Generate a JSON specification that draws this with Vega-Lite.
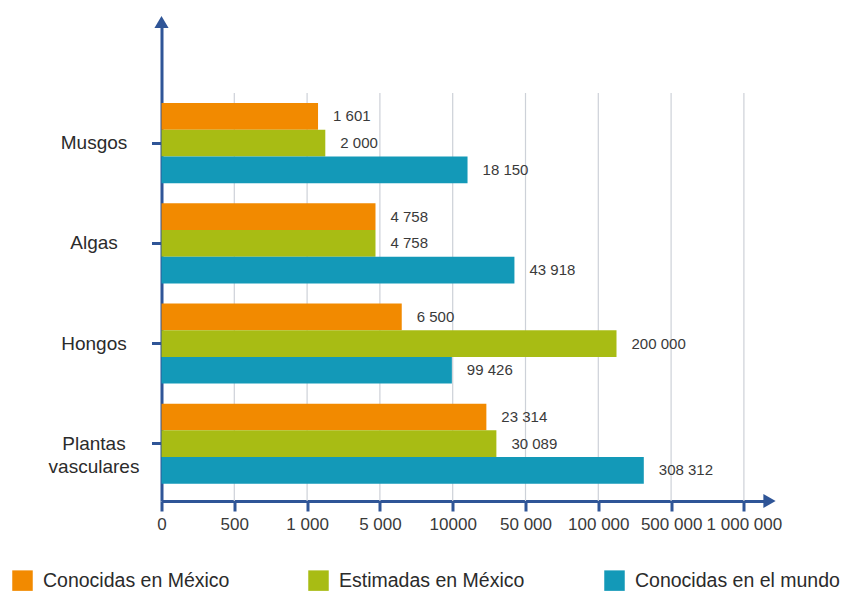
{
  "$schema": "https://vega.github.io/schema/vega-lite/v6.json",
  "width": 608,
  "height": 479,
  "autosize": {"type": "none"},
  "padding": {"left": 161.5, "top": 22, "right": 78.5, "bottom": 99},
  "background": "white",
  "config": {
    "view": {"stroke": null},
    "font": "Liberation Sans, Arial, sans-serif"
  },
  "datasets": {
    "barras": [
      {"grupo": "Musgos", "serie": "Conocidas en México", "valor": 1601, "etiqueta": "1 601"},
      {"grupo": "Musgos", "serie": "Estimadas en México", "valor": 2000, "etiqueta": "2 000"},
      {"grupo": "Musgos", "serie": "Conocidas en el mundo", "valor": 18150, "etiqueta": "18 150"},
      {"grupo": "Algas", "serie": "Conocidas en México", "valor": 4758, "etiqueta": "4 758"},
      {"grupo": "Algas", "serie": "Estimadas en México", "valor": 4758, "etiqueta": "4 758"},
      {"grupo": "Algas", "serie": "Conocidas en el mundo", "valor": 43918, "etiqueta": "43 918"},
      {"grupo": "Hongos", "serie": "Conocidas en México", "valor": 6500, "etiqueta": "6 500"},
      {"grupo": "Hongos", "serie": "Estimadas en México", "valor": 200000, "etiqueta": "200 000"},
      {"grupo": "Hongos", "serie": "Conocidas en el mundo", "valor": 9943, "etiqueta": "99 426"},
      {"grupo": "Plantas vasculares", "serie": "Conocidas en México", "valor": 28500, "etiqueta": "23 314"},
      {"grupo": "Plantas vasculares", "serie": "Estimadas en México", "valor": 34000, "etiqueta": "30 089"},
      {"grupo": "Plantas vasculares", "serie": "Conocidas en el mundo", "valor": 350000, "etiqueta": "308 312"}
    ],
    "marcas": [
      {"tick": 500}, {"tick": 1000}, {"tick": 5000}, {"tick": 10000},
      {"tick": 50000}, {"tick": 100000}, {"tick": 500000}, {"tick": 1000000}
    ],
    "uno": [{"k": 1}]
  },
  "layer": [
    {
      "data": {"name": "marcas"},
      "mark": {"type": "rule", "color": "#cdd1d8", "strokeWidth": 1.2},
      "encoding": {
        "x": {"field": "tick", "type": "quantitative"},
        "y": {"datum": "Musgos", "type": "nominal", "bandPosition": -0.125},
        "y2": {"value": "height"}
      }
    },
    {
      "data": {"name": "barras"},
      "mark": {"type": "bar"},
      "encoding": {
        "x": {
          "field": "valor",
          "type": "quantitative",
          "scale": {
            "domain": [0, 500, 1000, 5000, 10000, 50000, 100000, 500000, 1000000, 1175000],
            "range": [0, 72.8, 145.6, 218.4, 291.2, 364, 436.8, 509.6, 582.4, 608],
            "nice": false,
            "zero": false
          },
          "axis": {
            "title": null,
            "values": [0, 500, 1000, 5000, 10000, 50000, 100000, 500000, 1000000],
            "labelExpr": "datum.value == 10000 ? '10000' : replace(format(datum.value, ','), regexp(',', 'g'), ' ')",
            "grid": false,
            "domainColor": "#2f5597",
            "domainWidth": 3,
            "tickColor": "#2f5597",
            "tickWidth": 3,
            "tickSize": 10,
            "labelFontSize": 17,
            "labelColor": "#3a3a3a",
            "labelPadding": 5,
            "labelFlush": false,
            "labelOverlap": false
          }
        },
        "y": {
          "field": "grupo",
          "type": "nominal",
          "sort": ["Musgos", "Algas", "Hongos", "Plantas vasculares"],
          "scale": {"paddingInner": 0.2, "paddingOuter": 0.49, "align": 0.825},
          "axis": {
            "title": null,
            "labelExpr": "datum.value == 'Plantas vasculares' ? ['Plantas', 'vasculares'] : datum.value",
            "labelAlign": "center",
            "labelBaseline": "middle",
            "labelPadding": 58,
            "labelFontSize": 19,
            "labelLineHeight": 23,
            "labelColor": "#2b2b2b",
            "domainColor": "#2f5597",
            "domainWidth": 3,
            "tickColor": "#2f5597",
            "tickWidth": 3,
            "tickSize": 10,
            "grid": false
          }
        },
        "yOffset": {
          "field": "serie",
          "type": "nominal",
          "sort": ["Conocidas en México", "Estimadas en México", "Conocidas en el mundo"],
          "scale": {"paddingInner": 0, "paddingOuter": 0}
        },
        "color": {
          "field": "serie",
          "type": "nominal",
          "sort": ["Conocidas en México", "Estimadas en México", "Conocidas en el mundo"],
          "scale": {
            "domain": ["Conocidas en México", "Estimadas en México", "Conocidas en el mundo"],
            "range": ["#f28a00", "#a8bc14", "#1399b8"]
          },
          "legend": {
            "title": null,
            "orient": "none",
            "direction": "horizontal",
            "legendX": -149.5,
            "legendY": 548,
            "symbolType": "square",
            "symbolSize": 420,
            "symbolStrokeWidth": 0,
            "symbolOpacity": 1,
            "labelFontSize": 19.5,
            "labelColor": "#2b2b2b",
            "labelLimit": 400,
            "labelOffset": 10,
            "gridAlign": "all",
            "columnPadding": 60
          }
        }
      }
    },
    {
      "data": {"name": "barras"},
      "mark": {"type": "text", "align": "left", "baseline": "middle", "dx": 15, "fontSize": 15, "color": "#3a3a3a"},
      "encoding": {
        "x": {"field": "valor", "type": "quantitative"},
        "y": {"field": "grupo", "type": "nominal", "sort": ["Musgos", "Algas", "Hongos", "Plantas vasculares"]},
        "yOffset": {"field": "serie", "type": "nominal", "sort": ["Conocidas en México", "Estimadas en México", "Conocidas en el mundo"]},
        "text": {"field": "etiqueta"}
      }
    },
    {
      "data": {"name": "uno"},
      "mark": {"type": "point", "shape": "triangle-up", "filled": true, "size": 200, "color": "#2f5597", "opacity": 1, "clip": false},
      "encoding": {
        "x": {"datum": 0, "type": "quantitative"},
        "y": {"value": 0}
      }
    },
    {
      "data": {"name": "uno"},
      "mark": {"type": "point", "shape": "triangle-right", "filled": true, "size": 200, "color": "#2f5597", "opacity": 1, "clip": false},
      "encoding": {
        "x": {"value": "width"},
        "y": {"value": "height"}
      }
    }
  ]
}
